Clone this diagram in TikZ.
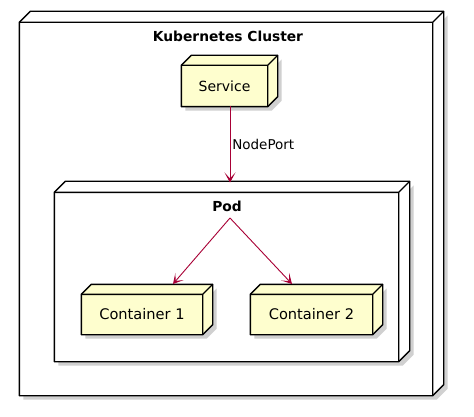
\documentclass[tikz,border=0pt]{standalone}
\usepackage{fontspec}
\setmainfont{DejaVu Sans}
\usetikzlibrary{calc,arrows.meta}
\definecolor{nodefill}{HTML}{FEFECE}
\definecolor{arrowred}{HTML}{A80036}
\tikzset{
  box/.style={draw=black, line width=1.4pt, minimum width=#1, inner sep=0pt},
  lbl/.style={font=\fontsize{14.6}{17}\selectfont},
  ttl/.style={font=\bfseries\fontsize{13.8}{16}\selectfont},
  conn/.style={draw=arrowred, line width=0.9pt, -{Stealth[length=10pt,width=11pt,inset=6pt]}},
}
\newcommand\threedbox[3]{% name, fill, depth
  \fill[black!30, opacity=0.6] ($(#1.north west)+(4,4)$) -- ($(#1.north east)+(4,4)$) -- ($(#1.north east)+(#3+4,-#3+4)$) -- ($(#1.south east)+(#3+4,-#3+4)$) -- ($(#1.south east)+(4,4)$) -- ($(#1.south west)+(4,4)$) -- cycle;
  \filldraw[fill=#2, line width=1.4pt, line join=round] (#1.north west) -- ($(#1.north west)+(#3,-#3)$) -- ($(#1.north east)+(#3,-#3)$) -- ($(#1.south east)+(#3,-#3)$) -- (#1.south east) -- (#1.south west) -- cycle;
  \draw[line width=1.4pt, line join=round] (#1.north west) -- (#1.north east) -- (#1.south east) (#1.north east) -- ++(#3,-#3);
}
\begin{document}
\begin{tikzpicture}[x=1pt,y=-1pt]
\useasboundingbox (0,0) rectangle (474,417);
% cluster
\node[box=412pt, minimum height=372pt] (cluster) at (226,209) {};
\threedbox{cluster}{white}{11}
\node[ttl] (clustertitle) at (228,36) {Kubernetes Cluster};
% service
\node[box=85pt, minimum height=40pt] (service) at (224.5,86) {};
\threedbox{service}{nodefill}{10}
\node[lbl, font=\fontsize{14}{17}\selectfont] (servicelbl) at (service.center) {Service};
% pod
\node[box=343pt, minimum height=168pt] (pod) at (226.5,277) {};
\threedbox{pod}{white}{11}
\node[ttl] (podtitle) at (227,206) {Pod};
% containers
\node[box=120pt, minimum height=39pt] (c1) at (142,314.5) {};
\threedbox{c1}{nodefill}{10}
\node[lbl] (c1lbl) at (c1.center) {Container 1};
\node[box=121pt, minimum height=39pt] (c2) at (311.5,314.5) {};
\threedbox{c2}{nodefill}{10}
\node[lbl] (c2lbl) at (c2.center) {Container 2};
% connectors
\coordinate (svcout) at (230,106);
\coordinate (podin) at (230,182.5);
\coordinate (podout) at (230,218);
\coordinate (c1in) at (173,284);
\coordinate (c2in) at (292,284);
\draw[conn] (svcout) -- node[right, font=\fontsize{13.5}{16}\selectfont, xshift=-1.5pt] (np) {NodePort} (podin);
\draw[conn] (podout) -- (c1in);
\draw[conn] (podout) -- (c2in);
\end{tikzpicture}
\end{document}
